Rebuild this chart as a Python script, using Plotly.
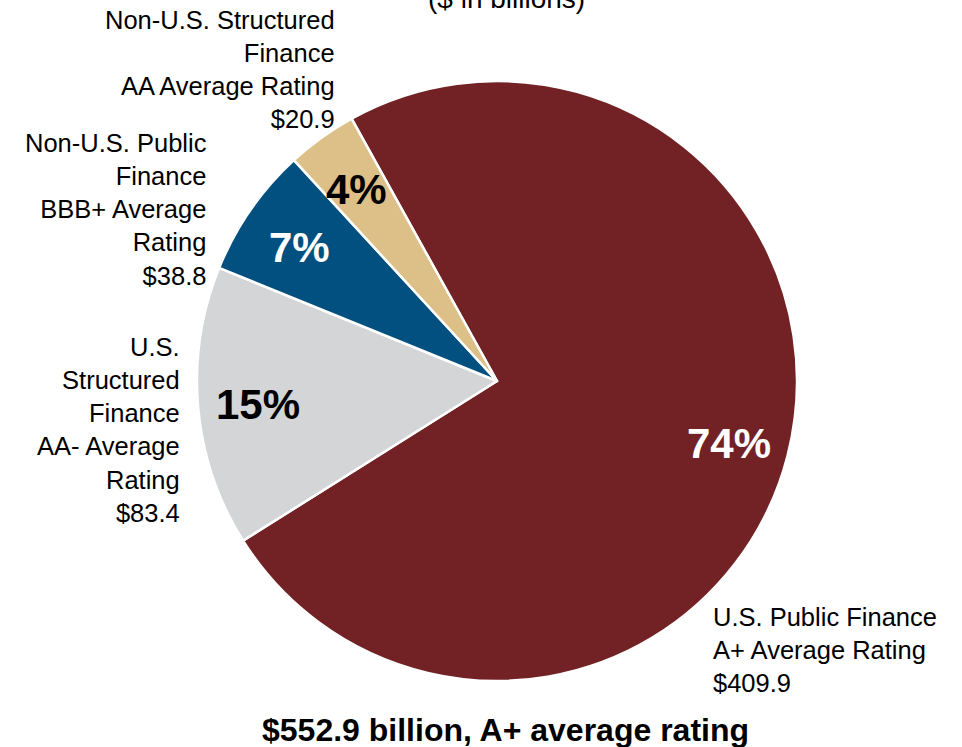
import math
import plotly.graph_objects as go

categories = ["U.S. Public Finance", "U.S. Structured Finance",
              "Non-U.S. Public Finance", "Non-U.S. Structured Finance"]
values = [409.9, 83.4, 38.8, 20.9]
ratings = ["A+", "AA-", "BBB+", "AA"]
colors = ["#722224", "#d4d5d7", "#02507f", "#dcc087"]
pct_colors = ["white", "black", "white", "black"]

label_texts = [
    "U.S. Public Finance<br>A+ Average Rating<br>$409.9",
    "U.S.<br>Structured<br>Finance<br>AA- Average<br>Rating<br>$83.4",
    "Non-U.S. Public<br>Finance<br>BBB+ Average<br>Rating<br>$38.8",
    "Non-U.S. Structured<br>Finance<br>AA Average Rating<br>$20.9",
]

W, H = 962, 747
cx, cy, R = 497, 381, 300
ROT = -29
dom = dict(x=[(cx - R) / W, (cx + R) / W], y=[(H - cy - R) / H, (H - cy + R) / H])
FONT = "Liberation Sans, Arial"

fig = go.Figure(go.Pie(
    labels=categories,
    values=values,
    sort=False,
    direction="clockwise",
    rotation=ROT,
    marker=dict(colors=colors, line=dict(color="white", width=2.5)),
    textinfo="none",
    hoverinfo="label+value+percent",
    showlegend=False,
    domain=dom,
))

# percentage labels placed at the middle angle of each slice, ~0.8 R from centre
total = sum(values)
cum = 0.0
for v, col in zip(values, pct_colors):
    mid = math.radians(ROT + (cum + v / 2) / total * 360)
    cum += v
    px = cx + 0.8 * R * math.sin(mid)
    py = cy - 0.8 * R * math.cos(mid) + 3
    fig.add_annotation(
        x=px / W, y=1 - py / H, xref="paper", yref="paper",
        xanchor="center", yanchor="middle", showarrow=False,
        text="<b>%d%%</b>" % round(v / total * 100),
        font=dict(family=FONT, size=42, color=col),
    )

# outside labels: (x edge px, y top px, anchor)
label_pos = [
    (711, 601, "left"),
    (182, 331, "right"),
    (209, 127, "right"),
    (337, 4, "right"),
]
for txt, (x, y, anc) in zip(label_texts, label_pos):
    fig.add_annotation(
        x=x / W, y=1 - y / H, xref="paper", yref="paper",
        xanchor=anc, yanchor="top", align=anc, showarrow=False,
        text=txt, font=dict(family=FONT, size=25.5, color="black"),
    )

fig.add_annotation(
    x=507 / W, y=1 + 1 / H, xref="paper", yref="paper",
    xanchor="center", yanchor="middle", showarrow=False,
    text="($ in billions)", font=dict(family=FONT, size=28, color="black"),
)
fig.add_annotation(
    x=505 / W, y=1 - 730 / H, xref="paper", yref="paper",
    xanchor="center", yanchor="middle", showarrow=False,
    text="<b>$552.9 billion, A+ average rating</b>",
    font=dict(family=FONT, size=32, color="black"),
)

fig.update_layout(
    width=W, height=H,
    margin=dict(l=0, r=0, t=0, b=0),
    paper_bgcolor="white", plot_bgcolor="white",
)
fig.write_html(
    "out.html",
    config={"displayModeBar": False},
    post_script="document.body.style.margin='0';document.body.style.overflow='hidden';",
)
